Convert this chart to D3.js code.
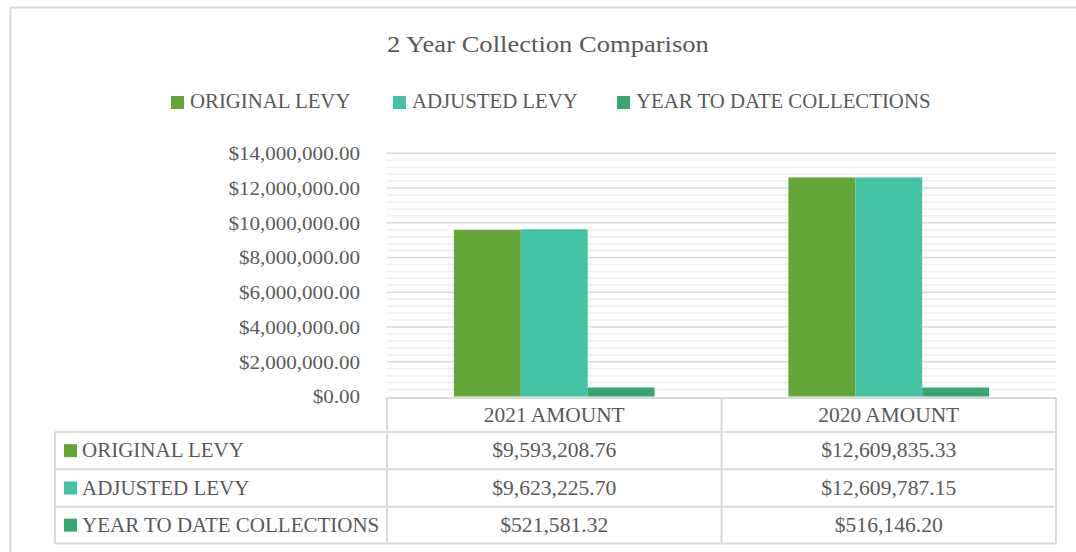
<!DOCTYPE html>
<html><head><meta charset="utf-8">
<script src="https://cdn.jsdelivr.net/npm/d3@7"></script>
<style>
html,body{margin:0;padding:0;background:#fff;}
svg{display:block;}
text{font-family:"Liberation Serif","DejaVu Serif",serif;fill:#595959;}
</style></head>
<body>
<svg id="c" width="1076" height="552"></svg>
<script>
const categories = ["2021 AMOUNT", "2020 AMOUNT"];
const seriesNames = ["ORIGINAL LEVY", "ADJUSTED LEVY", "YEAR TO DATE COLLECTIONS"];
const originalLevy = [9593208.76, 12609835.33];
const adjustedLevy = [9623225.70, 12609787.15];
const ytdCollections = [521581.32, 516146.20];
const yTicks = [0, 2000000, 4000000, 6000000, 8000000, 10000000, 12000000, 14000000];
const title = "2 Year Collection Comparison";
const colors = ["#63A537", "#44C2A4", "#37A76F"];

const series = [originalLevy, adjustedLevy, ytdCollections];
const svg = d3.select("#c");
const textCol = "#595959";

function stretch(sel, k) {
  sel.each(function () {
    const w = this.getComputedTextLength();
    d3.select(this).attr("textLength", w * k).attr("lengthAdjust", "spacingAndGlyphs");
  });
}

// outer chart border
svg.append("rect").attr("x", 10.5).attr("y", 7.5).attr("width", 1080).attr("height", 560)
  .attr("fill", "none").attr("stroke", "#d9d9d9").attr("stroke-width", 2);

const plotL = 387, plotR = 1056, plotT = 153.3, plotB = 396.5;
const x0 = d3.scaleBand().domain(categories).range([plotL, plotR]).paddingInner(0).paddingOuter(0);
const x1 = d3.scaleBand().domain(d3.range(series.length)).range([0, x0.bandwidth()]).paddingInner(0).paddingOuter(1);
const y = d3.scaleLinear().domain([0, 14000000]).range([plotB, plotT]);

// minor gridlines
const minor = d3.range(0, 14000001, 400000).filter(v => v % 2000000 !== 0);
svg.append("g").selectAll("line").data(minor).join("line")
  .attr("x1", plotL).attr("x2", plotR).attr("y1", d => y(d)).attr("y2", d => y(d))
  .attr("stroke", "#f0f0f0").attr("stroke-width", 1.5);
// major gridlines
svg.append("g").selectAll("line").data(yTicks.filter(v => v > 0)).join("line")
  .attr("x1", plotL).attr("x2", plotR).attr("y1", d => y(d)).attr("y2", d => y(d))
  .attr("stroke", "#d9d9d9").attr("stroke-width", 1.5);

// y axis
const fmt = v => "$" + d3.format(",.2f")(v);
const yAxis = d3.axisLeft(y).tickValues(yTicks).tickFormat(fmt).tickSize(0).tickPadding(0);
const ga = svg.append("g").attr("transform", `translate(${360},0)`).call(yAxis);
ga.select(".domain").remove();
ga.selectAll("text").attr("font-size", 19.5).attr("font-family", '"Liberation Serif",serif').style("fill", textCol).attr("dy", "0.32em");
stretch(ga.selectAll("text"), 1.08);

// bars
const groups = svg.append("g").selectAll("g").data(categories).join("g")
  .attr("transform", d => `translate(${x0(d)},0)`);
groups.selectAll("rect").data((d, i) => series.map((s, j) => ({j, v: s[i]}))).join("rect")
  .attr("x", d => x1(d.j)).attr("width", x1.bandwidth())
  .attr("y", d => y(d.v)).attr("height", d => plotB - y(d.v))
  .attr("fill", d => colors[d.j]);

// title
const tt = svg.append("text").attr("x", 548).attr("y", 52).attr("text-anchor", "middle")
  .attr("font-size", 24).text(title);
stretch(tt, 320 / 289);

// legend
const legX = [171, 393, 617];
const leg = svg.append("g").selectAll("g").data(seriesNames).join("g")
  .attr("transform", (d, i) => `translate(${legX[i]},0)`);
leg.append("rect").attr("x", 0).attr("y", 96).attr("width", 13).attr("height", 13).attr("fill", (d, i) => colors[i]);
const lt = leg.append("text").attr("x", 19).attr("y", 108).attr("font-size", 20).text(d => d);
stretch(lt, 1.04);

// data table
const tL = 55, rowTop = [398, 432, 469.3, 506.7], rowBot = 543.6;
const tg = svg.append("g");
const lc = "#d9d9d9";
tg.append("line").attr("x1", plotL).attr("x2", plotR).attr("y1", rowTop[0]).attr("y2", rowTop[0]).attr("stroke", lc).attr("stroke-width", 2);
[rowTop[1], rowTop[2], rowTop[3], rowBot].forEach(yy => {
  tg.append("line").attr("x1", tL).attr("x2", plotR).attr("y1", yy).attr("y2", yy).attr("stroke", lc).attr("stroke-width", 2);
});
tg.append("line").attr("x1", tL).attr("x2", tL).attr("y1", rowTop[1]).attr("y2", rowBot).attr("stroke", lc).attr("stroke-width", 2);
[plotL, x0(categories[1]), plotR].forEach(xx => {
  tg.append("line").attr("x1", xx).attr("x2", xx).attr("y1", rowTop[0]).attr("y2", rowBot).attr("stroke", lc).attr("stroke-width", 2);
});
const ht = tg.selectAll("text.h").data(categories).join("text").attr("class", "h")
  .attr("x", d => x0(d) + x0.bandwidth() / 2).attr("y", (rowTop[0] + rowTop[1]) / 2 + 6.5)
  .attr("text-anchor", "middle").attr("font-size", 20).text(d => d);
stretch(ht, 1.07);
seriesNames.forEach((name, j) => {
  const yc = (rowTop[j + 1] + (j < 2 ? rowTop[j + 2] : rowBot)) / 2;
  tg.append("rect").attr("x", 64).attr("y", yc - 6.5).attr("width", 13).attr("height", 13).attr("fill", colors[j]);
  const rl = tg.append("text").attr("x", 82).attr("y", yc + 6.5).attr("font-size", 20).text(name);
  stretch(rl, 1.05);
  categories.forEach((c, i) => {
    const vt = tg.append("text").attr("x", x0(c) + x0.bandwidth() / 2).attr("y", yc + 6.5)
      .attr("text-anchor", "middle").attr("font-size", 20).text(fmt(series[j][i]));
    stretch(vt, 1.08);
  });
});
</script>
</body></html>
